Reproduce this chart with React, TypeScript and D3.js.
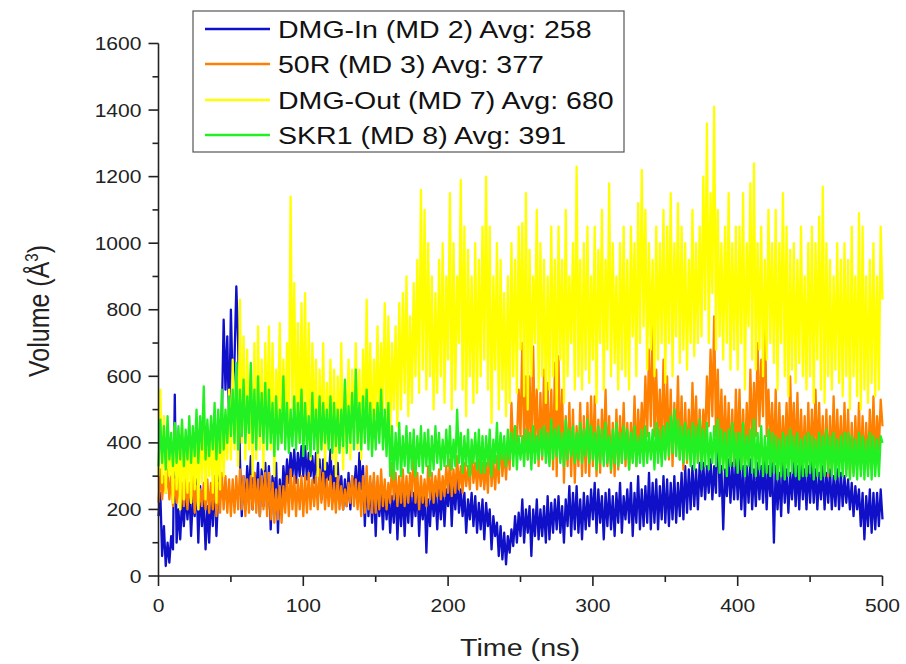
import React from "react";
import * as d3 from "d3";

// time step between samples (ns)
const DT = 1.25;

const seriesNames = [
  "DMG-In (MD 2) Avg: 258",
  "50R (MD 3) Avg: 377",
  "DMG-Out (MD 7) Avg: 680",
  "SKR1 (MD 8) Avg: 391",
];
const seriesColors = ["#1010c8", "#ff8000", "#ffff00", "#22f022"];

const xTicks = [0, 100, 200, 300, 400, 500];
const yTicks = [0, 200, 400, 600, 800, 1000, 1200, 1400, 1600];

// DMG-In (MD 2)
const dmgIn = [
  180, 250, 60, 150, 30, 100, 40, 120, 80, 545, 100, 200, 110, 230, 150, 250, 170, 260, 120, 240,
  180, 290, 100, 270, 150, 230, 80, 210, 100, 250, 150, 300, 120, 250, 350, 480, 770, 560, 720, 450,
  800, 560, 650, 870, 700, 350, 180, 300, 200, 330, 240, 360, 200, 310, 250, 340, 180, 320, 210, 340,
  200, 330, 140, 300, 220, 340, 130, 290, 200, 330, 250, 350, 280, 370, 300, 380, 280, 370, 300, 390,
  300, 390, 290, 370, 300, 360, 280, 370, 300, 350, 230, 350, 260, 340, 290, 380, 250, 330, 220, 340,
  220, 300, 200, 290, 210, 310, 200, 300, 250, 330, 220, 370, 260, 330, 150, 300, 180, 280, 160, 290,
  120, 280, 180, 250, 140, 260, 170, 250, 130, 240, 160, 270, 110, 250, 150, 260, 120, 250, 160, 270,
  150, 250, 180, 280, 120, 240, 170, 260, 70, 230, 150, 260, 180, 250, 140, 260, 170, 270, 150, 260,
  210, 300, 150, 280, 200, 300, 190, 260, 180, 250, 130, 230, 170, 250, 150, 240, 130, 220, 140, 230,
  110, 220, 150, 200, 80, 180, 120, 160, 60, 150, 50, 130, 35, 120, 70, 140, 90, 180, 100, 190,
  120, 230, 100, 200, 130, 210, 60, 200, 120, 230, 110, 200, 120, 210, 100, 240, 110, 220, 130, 230,
  140, 240, 130, 210, 100, 230, 150, 270, 120, 250, 140, 270, 130, 230, 110, 250, 140, 240, 150, 260,
  170, 280, 130, 260, 160, 240, 110, 250, 150, 260, 140, 240, 120, 250, 160, 280, 130, 240, 170, 260,
  160, 280, 120, 250, 160, 300, 140, 260, 150, 270, 160, 310, 140, 280, 160, 290, 140, 270, 170, 300,
  160, 290, 150, 280, 170, 300, 160, 280, 180, 310, 170, 330, 190, 320, 200, 330, 210, 320, 200, 340,
  240, 340, 230, 330, 250, 350, 230, 330, 250, 490, 240, 330, 140, 320, 240, 350, 220, 340, 230, 350,
  230, 350, 200, 330, 180, 330, 220, 350, 200, 320, 210, 340, 230, 330, 220, 350, 200, 330, 240, 340,
  100, 330, 200, 310, 180, 340, 220, 320, 190, 310, 230, 340, 210, 330, 200, 340, 230, 320, 200, 330,
  220, 340, 220, 320, 200, 310, 230, 330, 200, 310, 220, 320, 200, 300, 210, 320, 200, 310, 210, 300,
  220, 290, 200, 280, 180, 270, 200, 260, 150, 250, 110, 240, 150, 260, 130, 250, 140, 250, 150, 260,
  170,
];

// 50R (MD 3)
const r50 = [
  220, 320, 230, 300, 250, 320, 230, 300, 210, 290, 220, 300, 200, 280, 210, 290, 200, 280, 220, 300,
  190, 270, 200, 260, 210, 280, 200, 290, 190, 280, 200, 300, 180, 280, 190, 310, 200, 300, 190, 290,
  180, 290, 190, 300, 200, 320, 200, 300, 180, 290, 190, 300, 200, 310, 190, 290, 180, 300, 200, 310,
  180, 310, 170, 280, 160, 260, 170, 270, 160, 270, 190, 300, 180, 320, 200, 300, 180, 290, 200, 300,
  180, 300, 190, 310, 200, 290, 210, 300, 200, 320, 220, 310, 200, 290, 210, 300, 200, 280, 190, 300,
  200, 270, 200, 260, 210, 280, 220, 300, 210, 290, 200, 280, 180, 300, 190, 330, 200, 300, 190, 310,
  190, 300, 200, 320, 210, 290, 200, 280, 220, 340, 230, 310, 210, 300, 220, 320, 210, 300, 220, 310,
  240, 380, 220, 310, 200, 300, 220, 290, 210, 330, 230, 310, 220, 300, 240, 320, 230, 300, 240, 330,
  250, 350, 240, 320, 250, 360, 260, 330, 250, 340, 270, 330, 260, 380, 280, 340, 260, 350, 270, 340,
  260, 340, 250, 400, 270, 350, 260, 360, 280, 420, 300, 380, 290, 400, 320, 520, 380, 450, 400, 560,
  420, 700, 400, 600, 350, 600, 380, 690, 400, 560, 330, 550, 350, 620, 380, 580, 340, 560, 320, 640,
  300, 660, 350, 560, 280, 480, 330, 520, 300, 500, 280, 450, 330, 520, 300, 480, 310, 520, 300, 540,
  330, 540, 300, 470, 310, 500, 350, 560, 330, 480, 310, 460, 300, 500, 320, 480, 340, 520, 330, 460,
  320, 460, 350, 540, 330, 500, 380, 520, 400, 600, 420, 680, 450, 750, 420, 620, 400, 560, 380, 650,
  380, 600, 350, 560, 330, 520, 380, 600, 350, 540, 320, 520, 340, 500, 350, 580, 380, 540, 340, 500,
  350, 500, 400, 600, 450, 680, 480, 780, 420, 620, 380, 560, 340, 540, 360, 520, 340, 500, 330, 560,
  360, 560, 330, 500, 340, 520, 360, 620, 400, 580, 420, 700, 450, 650, 480, 850, 420, 560, 380, 520,
  340, 560, 310, 520, 330, 480, 350, 520, 340, 600, 380, 520, 350, 550, 320, 500, 330, 480, 310, 520,
  330, 500, 350, 560, 340, 520, 330, 480, 310, 500, 300, 480, 320, 540, 330, 500, 340, 480, 320, 520,
  320, 500, 300, 460, 310, 480, 330, 520, 320, 480, 330, 460, 320, 500, 340, 540, 330, 480, 380, 530,
  450,
];

// DMG-Out (MD 7)
const dmgOut = [
  300, 560, 280, 480, 250, 440, 300, 400, 220, 450, 260, 420, 200, 460, 230, 400, 250, 450, 220, 420,
  260, 420, 200, 460, 280, 500, 230, 450, 300, 430, 250, 480, 220, 420, 260, 500, 300, 480, 350, 560,
  350, 650, 380, 600, 330, 830, 400, 720, 350, 680, 380, 620, 300, 700, 350, 750, 380, 650, 320, 700,
  420, 750, 380, 700, 300, 620, 450, 760, 400, 650, 420, 700, 450, 1140, 500, 880, 420, 760, 400, 820,
  450, 850, 400, 760, 350, 700, 420, 650, 300, 620, 380, 700, 320, 580, 400, 650, 350, 620, 300, 600,
  380, 700, 320, 580, 400, 650, 350, 620, 420, 700, 380, 620, 350, 680, 420, 830, 400, 700, 380, 650,
  480, 750, 420, 700, 500, 820, 460, 780, 420, 700, 500, 750, 450, 820, 500, 850, 550, 900, 480, 780,
  520, 880, 600, 950, 550, 1160, 620, 1100, 560, 1000, 600, 900, 500, 850, 550, 950, 600, 1000, 520, 900,
  650, 1150, 500, 1000, 560, 900, 700, 1190, 560, 1050, 480, 980, 600, 900, 520, 1000, 550, 950, 600, 1050,
  650, 1200, 560, 1050, 460, 900, 620, 1000, 500, 950, 560, 850, 480, 900, 520, 1000, 600, 950, 550, 1050,
  680, 1060, 540, 1150, 500, 980, 600, 900, 700, 1100, 560, 1000, 600, 950, 520, 900, 560, 1050, 600, 950,
  500, 1050, 650, 950, 520, 1100, 600, 900, 700, 1000, 560, 1230, 600, 950, 560, 1000, 620, 1050, 580, 900,
  650, 1050, 520, 980, 700, 1100, 560, 950, 680, 1180, 600, 1000, 640, 900, 560, 1000, 620, 1050, 600, 950,
  560, 1050, 720, 1000, 600, 1120, 700, 1220, 750, 1100, 620, 1000, 680, 950, 600, 1050, 650, 1000, 700, 1100,
  580, 1050, 700, 1150, 600, 1000, 720, 1120, 640, 1050, 680, 1000, 620, 950, 700, 1100, 660, 1000, 700, 1050,
  720, 1200, 800, 1360, 700, 1150, 850, 1410, 680, 1100, 720, 1000, 650, 1050, 700, 1150, 620, 1000, 680, 1050,
  620, 1050, 700, 1150, 560, 1000, 750, 1180, 650, 1240, 620, 1000, 680, 1050, 600, 950, 650, 1100, 700, 1000,
  640, 1100, 560, 1000, 700, 1150, 600, 1050, 540, 980, 620, 1000, 580, 950, 640, 1050, 600, 900, 560, 1000,
  600, 1050, 520, 1000, 650, 1080, 560, 1170, 520, 1000, 600, 950, 560, 900, 620, 1000, 580, 950, 540, 1000,
  600, 950, 500, 1050, 600, 900, 540, 1090, 500, 1050, 560, 900, 520, 950, 580, 1000, 540, 900, 560, 1050,
  830,
];

// SKR1 (MD 8)
const skr1 = [
  330, 470, 340, 450, 320, 480, 350, 430, 330, 460, 340, 450, 350, 470, 330, 440, 350, 480, 340, 450,
  360, 500, 340, 480, 380, 570, 350, 470, 360, 480, 380, 520, 350, 500, 370, 560, 380, 500, 400, 540,
  420, 560, 400, 640, 380, 560, 420, 590, 400, 540, 430, 640, 400, 560, 380, 600, 420, 550, 400, 580,
  380, 560, 400, 520, 360, 540, 380, 500, 400, 600, 380, 520, 370, 500, 390, 540, 380, 520, 400, 560,
  360, 520, 380, 480, 360, 550, 380, 500, 370, 540, 380, 520, 400, 500, 380, 540, 370, 520, 390, 500,
  370, 500, 390, 590, 370, 510, 400, 550, 380, 620, 400, 520, 380, 540, 400, 560, 380, 520, 360, 500,
  380, 520, 400, 560, 380, 500, 360, 520, 300, 450, 290, 430, 320, 460, 300, 420, 330, 450, 310, 430,
  320, 440, 300, 420, 330, 450, 310, 430, 330, 440, 300, 420, 320, 450, 340, 430, 320, 410, 330, 440,
  330, 450, 320, 410, 330, 500, 340, 430, 310, 420, 330, 440, 300, 410, 340, 430, 320, 440, 310, 420,
  310, 420, 330, 440, 300, 410, 340, 460, 320, 430, 350, 420, 330, 440, 350, 430, 330, 450, 320, 420,
  350, 420, 330, 440, 350, 430, 320, 450, 340, 420, 350, 440, 360, 450, 340, 430, 330, 470, 350, 440,
  360, 450, 340, 430, 330, 470, 350, 440, 360, 450, 340, 430, 350, 460, 340, 440, 360, 470, 340, 450,
  350, 430, 320, 450, 340, 440, 330, 460, 340, 420, 320, 440, 340, 460, 330, 430, 340, 450, 350, 440,
  320, 430, 340, 450, 330, 420, 340, 440, 330, 450, 340, 430, 350, 440, 320, 460, 340, 440, 330, 450,
  350, 460, 360, 480, 370, 500, 360, 470, 350, 450, 340, 460, 350, 440, 330, 460, 320, 450, 340, 470,
  320, 440, 330, 460, 320, 430, 340, 450, 330, 470, 310, 440, 320, 430, 300, 440, 330, 460, 330, 430,
  310, 430, 320, 460, 300, 420, 330, 440, 310, 470, 300, 430, 320, 450, 300, 420, 310, 440, 300, 430,
  310, 420, 290, 410, 300, 430, 290, 420, 300, 440, 310, 420, 300, 430, 290, 410, 300, 420, 300, 430,
  310, 420, 290, 410, 300, 430, 290, 420, 300, 440, 310, 420, 300, 430, 290, 410, 300, 420, 300, 430,
  300, 430, 290, 420, 300, 410, 290, 430, 300, 420, 290, 410, 300, 430, 290, 420, 300, 410, 300, 420,
  400,
];

const allSeries = [dmgIn, r50, dmgOut, skr1];

const FONT = "'Liberation Sans', Arial, Helvetica, sans-serif";
const SX = 1.17;

export default function App() {
  const W = 906;
  const H = 664;
  const x = d3.scaleLinear().domain([0, 500]).range([158.5, 882.5]);
  const y = d3.scaleLinear().domain([0, 1600]).range([576, 43.5]);
  const line = d3
    .line<number>()
    .x((_, i) => x(i * DT))
    .y((d) => y(d));

  const xMinor = d3.range(50, 500, 100);
  const yMinor = d3.range(100, 1600, 200);
  const axisColor = "#222";

  const legendRows = [29, 64, 100, 135];

  return (
    <svg
      width={W}
      height={H}
      viewBox={`0 0 ${W} ${H}`}
      style={{ position: "absolute", left: 0, top: 0, background: "#fff" }}
      fontFamily={FONT}
    >
      <rect x={0} y={0} width={W} height={H} fill="#fff" />
      {allSeries.map((s, k) => (
        <path
          key={k}
          d={line(s) || ""}
          fill="none"
          stroke={seriesColors[k]}
          strokeWidth={2.3}
          strokeLinejoin="round"
        />
      ))}

      <line x1={x(0)} x2={x(500)} y1={y(0)} y2={y(0)} stroke={axisColor} strokeWidth={1.6} />
      <line x1={x(0)} x2={x(0)} y1={y(0)} y2={y(1600)} stroke={axisColor} strokeWidth={1.6} />

      {xTicks.map((t) => (
        <g key={"xt" + t}>
          <line x1={x(t)} x2={x(t)} y1={y(0)} y2={y(0) + 10} stroke={axisColor} strokeWidth={1.6} />
          <text
            transform={`translate(${x(t)},${612}) scale(${SX},1)`}
            textAnchor="middle"
            fontSize={18}
            fill="#222"
          >
            {t}
          </text>
        </g>
      ))}
      {xMinor.map((t) => (
        <line key={"xm" + t} x1={x(t)} x2={x(t)} y1={y(0)} y2={y(0) + 6} stroke={axisColor} strokeWidth={1.6} />
      ))}

      {yTicks.map((t) => (
        <g key={"yt" + t}>
          <line x1={x(0) - 10} x2={x(0)} y1={y(t)} y2={y(t)} stroke={axisColor} strokeWidth={1.6} />
          <text
            transform={`translate(${x(0) - 17},${y(t) + 6.5}) scale(${SX},1)`}
            textAnchor="end"
            fontSize={18}
            fill="#222"
          >
            {t}
          </text>
        </g>
      ))}
      {yMinor.map((t) => (
        <line key={"ym" + t} x1={x(0) - 6} x2={x(0)} y1={y(t)} y2={y(t)} stroke={axisColor} strokeWidth={1.6} />
      ))}

      <text
        transform={`translate(${520},${656}) scale(${SX},1)`}
        textAnchor="middle"
        fontSize={24.5}
        fill="#222"
      >
        Time (ns)
      </text>
      <text
        transform={`translate(${49},${311}) rotate(-90) scale(1,${SX})`}
        textAnchor="middle"
        fontSize={25}
        fill="#222"
      >
        Volume (Å<tspan dy={-9} fontSize={15}>3</tspan><tspan dy={9}>)</tspan>
      </text>

      <rect x={193} y={11} width={431} height={141} fill="#fff" stroke="#555" strokeWidth={1.2} />
      {seriesNames.map((name, k) => (
        <g key={"lg" + k}>
          <line x1={205} x2={270} y1={legendRows[k]} y2={legendRows[k]} stroke={seriesColors[k]} strokeWidth={2.5} />
          <text
            transform={`translate(${278},${legendRows[k] + 8.5}) scale(${SX},1)`}
            fontSize={24.4}
            fill="#111"
          >
            {name}
          </text>
        </g>
      ))}
    </svg>
  );
}
